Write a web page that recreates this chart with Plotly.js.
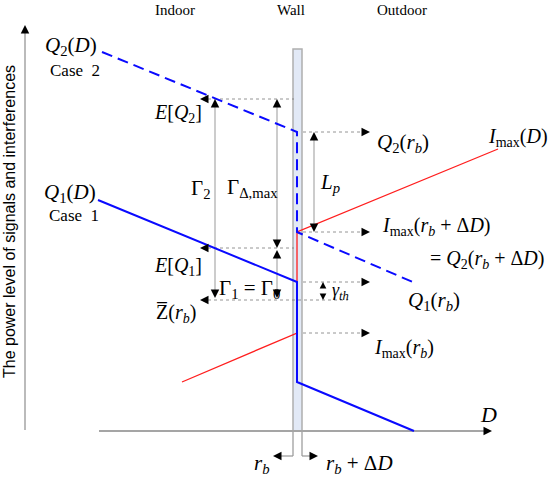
<!DOCTYPE html>
<html>
<head>
<meta charset="utf-8">
<script src="https://cdn.plot.ly/plotly-3.0.1.min.js"></script>
<style>
  html, body { margin: 0; padding: 0; background: #fff; }
  #chart { width: 554px; height: 478px; }
</style>
</head>
<body>
<div id="chart"></div>
<script>
'use strict';

// polylines, in picture units (x right, y down)
const q2X = [102, 297, 297, 415];
const q2Y = [52, 132, 232, 283];
const q1X = [98, 297, 297, 414];
const q1Y = [200, 282, 382, 431];
const imaxX = [182, 297, 297, 498];
const imaxY = [382, 333, 232, 149];

// power levels read at the wall
const yEQ2 = 99, yQ2rb = 132, yImaxRbD = 232, yEQ1 = 248;
const yQ1rb = 282, yZrb = 300, yImaxRb = 333;

// wall and axes
const wallX = [293, 302];
const wallY = [49, 431];
const axisY = 431, axisX0 = 99, axisX1 = 492;
const vAxisX = 25, vAxisY0 = 430, vAxisY1 = 25;
const rbY = 456;

const serif = 'Liberation Serif, Times New Roman, serif';

const traces = [
  { x: imaxX, y: imaxY, mode: 'lines', line: { color: 'rgb(255,30,30)', width: 1.3 } },
  { x: q1X, y: q1Y, mode: 'lines', line: { color: 'rgb(10,10,255)', width: 2 } },
  { x: q2X, y: q2Y, mode: 'lines', line: { color: 'rgb(10,10,255)', width: 2, dash: '11px,6px' } }
];

let shapes = [];
function seg(x0, y0, x1, y1, color, width, dash, layer) {
  shapes.push({ type: 'line', xref: 'x', yref: 'y', x0: x0, y0: y0, x1: x1, y1: y1,
    line: { color: color, width: width, dash: dash || 'solid' }, layer: layer || 'below' });
}

// wall
shapes.push({ type: 'rect', x0: wallX[0], x1: wallX[1], y0: wallY[0], y1: wallY[1],
  fillcolor: 'rgb(226,233,246)', line: { color: 'rgb(175,175,175)', width: 1.5 }, layer: 'below' });
seg(wallX[0], wallY[1], wallX[0], rbY, 'rgb(150,150,150)', 1.2);
seg(wallX[1], wallY[1], wallX[1], rbY, 'rgb(150,150,150)', 1.2);

// axes
seg(axisX0, axisY, axisX1 - 6, axisY, 'rgb(165,165,165)', 2);
seg(vAxisX, vAxisY0, vAxisX, vAxisY1 + 6, 'rgb(165,165,165)', 1.5);

// dotted level guides
const guide = 'rgb(120,120,120)';
seg(208, yEQ2, 294, yEQ2, guide, 0.8, 'dot');
seg(208, yEQ1, 294, yEQ1, guide, 0.8, 'dot');
seg(208, yZrb, 348, yZrb, guide, 0.8, 'dot');
seg(303, yQ2rb, 362, yQ2rb, guide, 0.8, 'dot');
seg(303, yImaxRbD, 362, yImaxRbD, guide, 0.8, 'dot');
seg(303, yQ1rb, 362, yQ1rb, guide, 0.8, 'dot');
seg(303, yImaxRb, 362, yImaxRb, guide, 0.8, 'dot');

// gray measuring stems
const stem = 'rgb(170,170,170)';
seg(215, yEQ2 + 4, 215, yZrb - 4, stem, 1.2);
seg(277, yEQ2 + 4, 277, yEQ1 - 4, stem, 1.2);
seg(277, yEQ1 + 4, 277, yZrb - 4, stem, 1.2);
seg(314, yQ2rb + 4, 314, yImaxRbD - 4, stem, 1.2);
seg(wallX[0], rbY, 280, rbY, 'rgb(150,150,150)', 1.2);
seg(wallX[1], rbY, 312, rbY, 'rgb(150,150,150)', 1.2);

let annotations = [];
// black arrow head with its tip at (x, y)
function head(x, y, dir, size) {
  const L = size || 9;
  const off = { up: [0, L], down: [0, -L], left: [L, 0], right: [-L, 0] }[dir];
  annotations.push({ x: x, y: y, xref: 'x', yref: 'y', text: '', showarrow: true,
    ax: off[0], ay: off[1], arrowhead: 2, arrowsize: (size ? size / 5.3 : 1.7), arrowwidth: 1,
    arrowcolor: 'black' });
}
head(215, yEQ2, 'up'); head(215, yZrb - 2, 'down');
head(277, yEQ2, 'up'); head(277, yEQ1, 'down');
head(277, yEQ1 + 2, 'up'); head(277, yZrb - 2, 'down');
head(314, yQ2rb, 'up'); head(314, yImaxRbD, 'down');
head(323, yQ1rb, 'up', 7); head(323, yZrb, 'down', 7);
head(200, yEQ2, 'left'); head(200, yEQ1, 'left'); head(200, yZrb, 'left');
head(370, yQ2rb, 'right'); head(370, yImaxRbD, 'right');
head(370, yQ1rb, 'right'); head(370, yImaxRb, 'right');
head(axisX1, axisY, 'right'); head(vAxisX, vAxisY1, 'up');
head(273, rbY, 'left'); head(318, rbY, 'right');

function label(text, x, y, size, fam) {
  annotations.push({ x: x, y: y, xref: 'x', yref: 'y', text: text, showarrow: false,
    xanchor: 'center', yanchor: 'middle',
    font: { family: fam || serif, size: size, color: 'black' } });
}
label('Indoor', 175, 10, 15);
label('Wall', 291, 10, 15);
label('Outdoor', 402, 10, 15);
label('<i>Q</i><sub>2</sub>(<i>D</i>)', 71, 46, 21);
label('Case  2', 75, 70, 17);
label('<i>E</i>[<i>Q</i><sub>2</sub>]', 178, 113, 20);
label('Γ<sub>2</sub>', 200, 189, 21);
label('Γ<sub>Δ,max</sub>', 252, 188, 21);
label('<i>L<sub>p</sub></i>', 330, 183, 21);
label('<i>Q</i><sub>2</sub>(<i>r<sub>b</sub></i>)', 403, 143, 21);
label('<i>I</i><sub>max</sub>(<i>D</i>)', 518, 137, 20);
label('<i>Q</i><sub>1</sub>(<i>D</i>)', 70, 193, 21);
label('Case  1', 74, 215, 17);
label('<i>I</i><sub>max</sub>(<i>r<sub>b</sub></i> + Δ<i>D</i>)', 436, 226, 20);
label('= <i>Q</i><sub>2</sub>(<i>r<sub>b</sub></i> + Δ<i>D</i>)', 487, 259, 20);
label('<i>E</i>[<i>Q</i><sub>1</sub>]', 178, 266, 20);
label('Γ<sub>1</sub> = Γ<sub>0</sub>', 249, 289, 21);
label('<i>γ<sub>th</sub></i>', 340, 291, 18);
label('<i>Q</i><sub>1</sub>(<i>r<sub>b</sub></i>)', 434, 301, 21);
label('Z\u0305(<i>r<sub>b</sub></i>)', 176, 313, 20);
label('<i>I</i><sub>max</sub>(<i>r<sub>b</sub></i>)', 404, 348, 20);
label('<i>D</i>', 488, 414, 22);
label('<i>r<sub>b</sub></i>', 262, 464, 21);
label('<i>r<sub>b</sub></i> + Δ<i>D</i>', 359, 464, 21);

annotations.push({ x: 9, y: 222, xref: 'x', yref: 'y', showarrow: false, textangle: -90,
  text: 'The power level of signals and interferences', xanchor: 'center', yanchor: 'middle',
  font: { family: 'Liberation Sans, Arial, sans-serif', size: 16, color: 'black' } });

const layout = {
  width: 554, height: 478,
  margin: { l: 0, r: 0, t: 0, b: 0 },
  paper_bgcolor: 'white', plot_bgcolor: 'white',
  showlegend: false,
  xaxis: { range: [0, 554], visible: false, fixedrange: true },
  yaxis: { range: [478, 0], visible: false, fixedrange: true },
  shapes: shapes,
  annotations: annotations
};

Plotly.newPlot('chart', traces, layout, { staticPlot: true });
</script>
</body>
</html>
